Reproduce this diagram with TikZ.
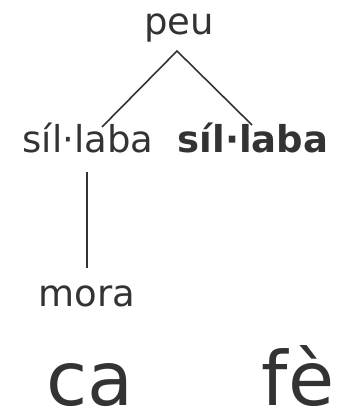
\documentclass[tikz,border=0pt]{standalone}
\usepackage{fontspec}
\setmainfont{DejaVu Sans}
\definecolor{ink}{HTML}{333333}
\begin{document}
\begin{tikzpicture}[x=1pt,y=-1pt,
  lbl/.style={anchor=base,inner sep=0pt,text=ink,font=\fontsize{37}{44}\selectfont},
  big/.style={anchor=base,inner sep=0pt,text depth=0pt,text=ink,font=\fontsize{75}{90}\selectfont},
  branch/.style={draw=ink,line width=1.6pt}]
\useasboundingbox (0,0) rectangle (339,409);
% tree labels
\node[lbl] (peu) at (179,35) {peu};
\node[lbl] (s1) at (88,152) {síl·laba};
\node[lbl,font=\fontsize{37}{44}\selectfont\bfseries] (s2) at (253,152) {síl·laba};
\node[lbl] (mora) at (87,306) {mora};
\node[big] (ca) at (90,405) {ca};
\node[big] (fe) at (298,405) {fè};
% branch end points
\coordinate (top) at (177,51);
\coordinate (lend) at (102,127);
\coordinate (rend) at (252,125);
\coordinate (mtop) at (87,172);
\coordinate (mbot) at (87,268);
\draw[branch] (lend) -- (top) -- (rend);
\draw[branch] (mtop) -- (mbot);
\end{tikzpicture}
\end{document}
